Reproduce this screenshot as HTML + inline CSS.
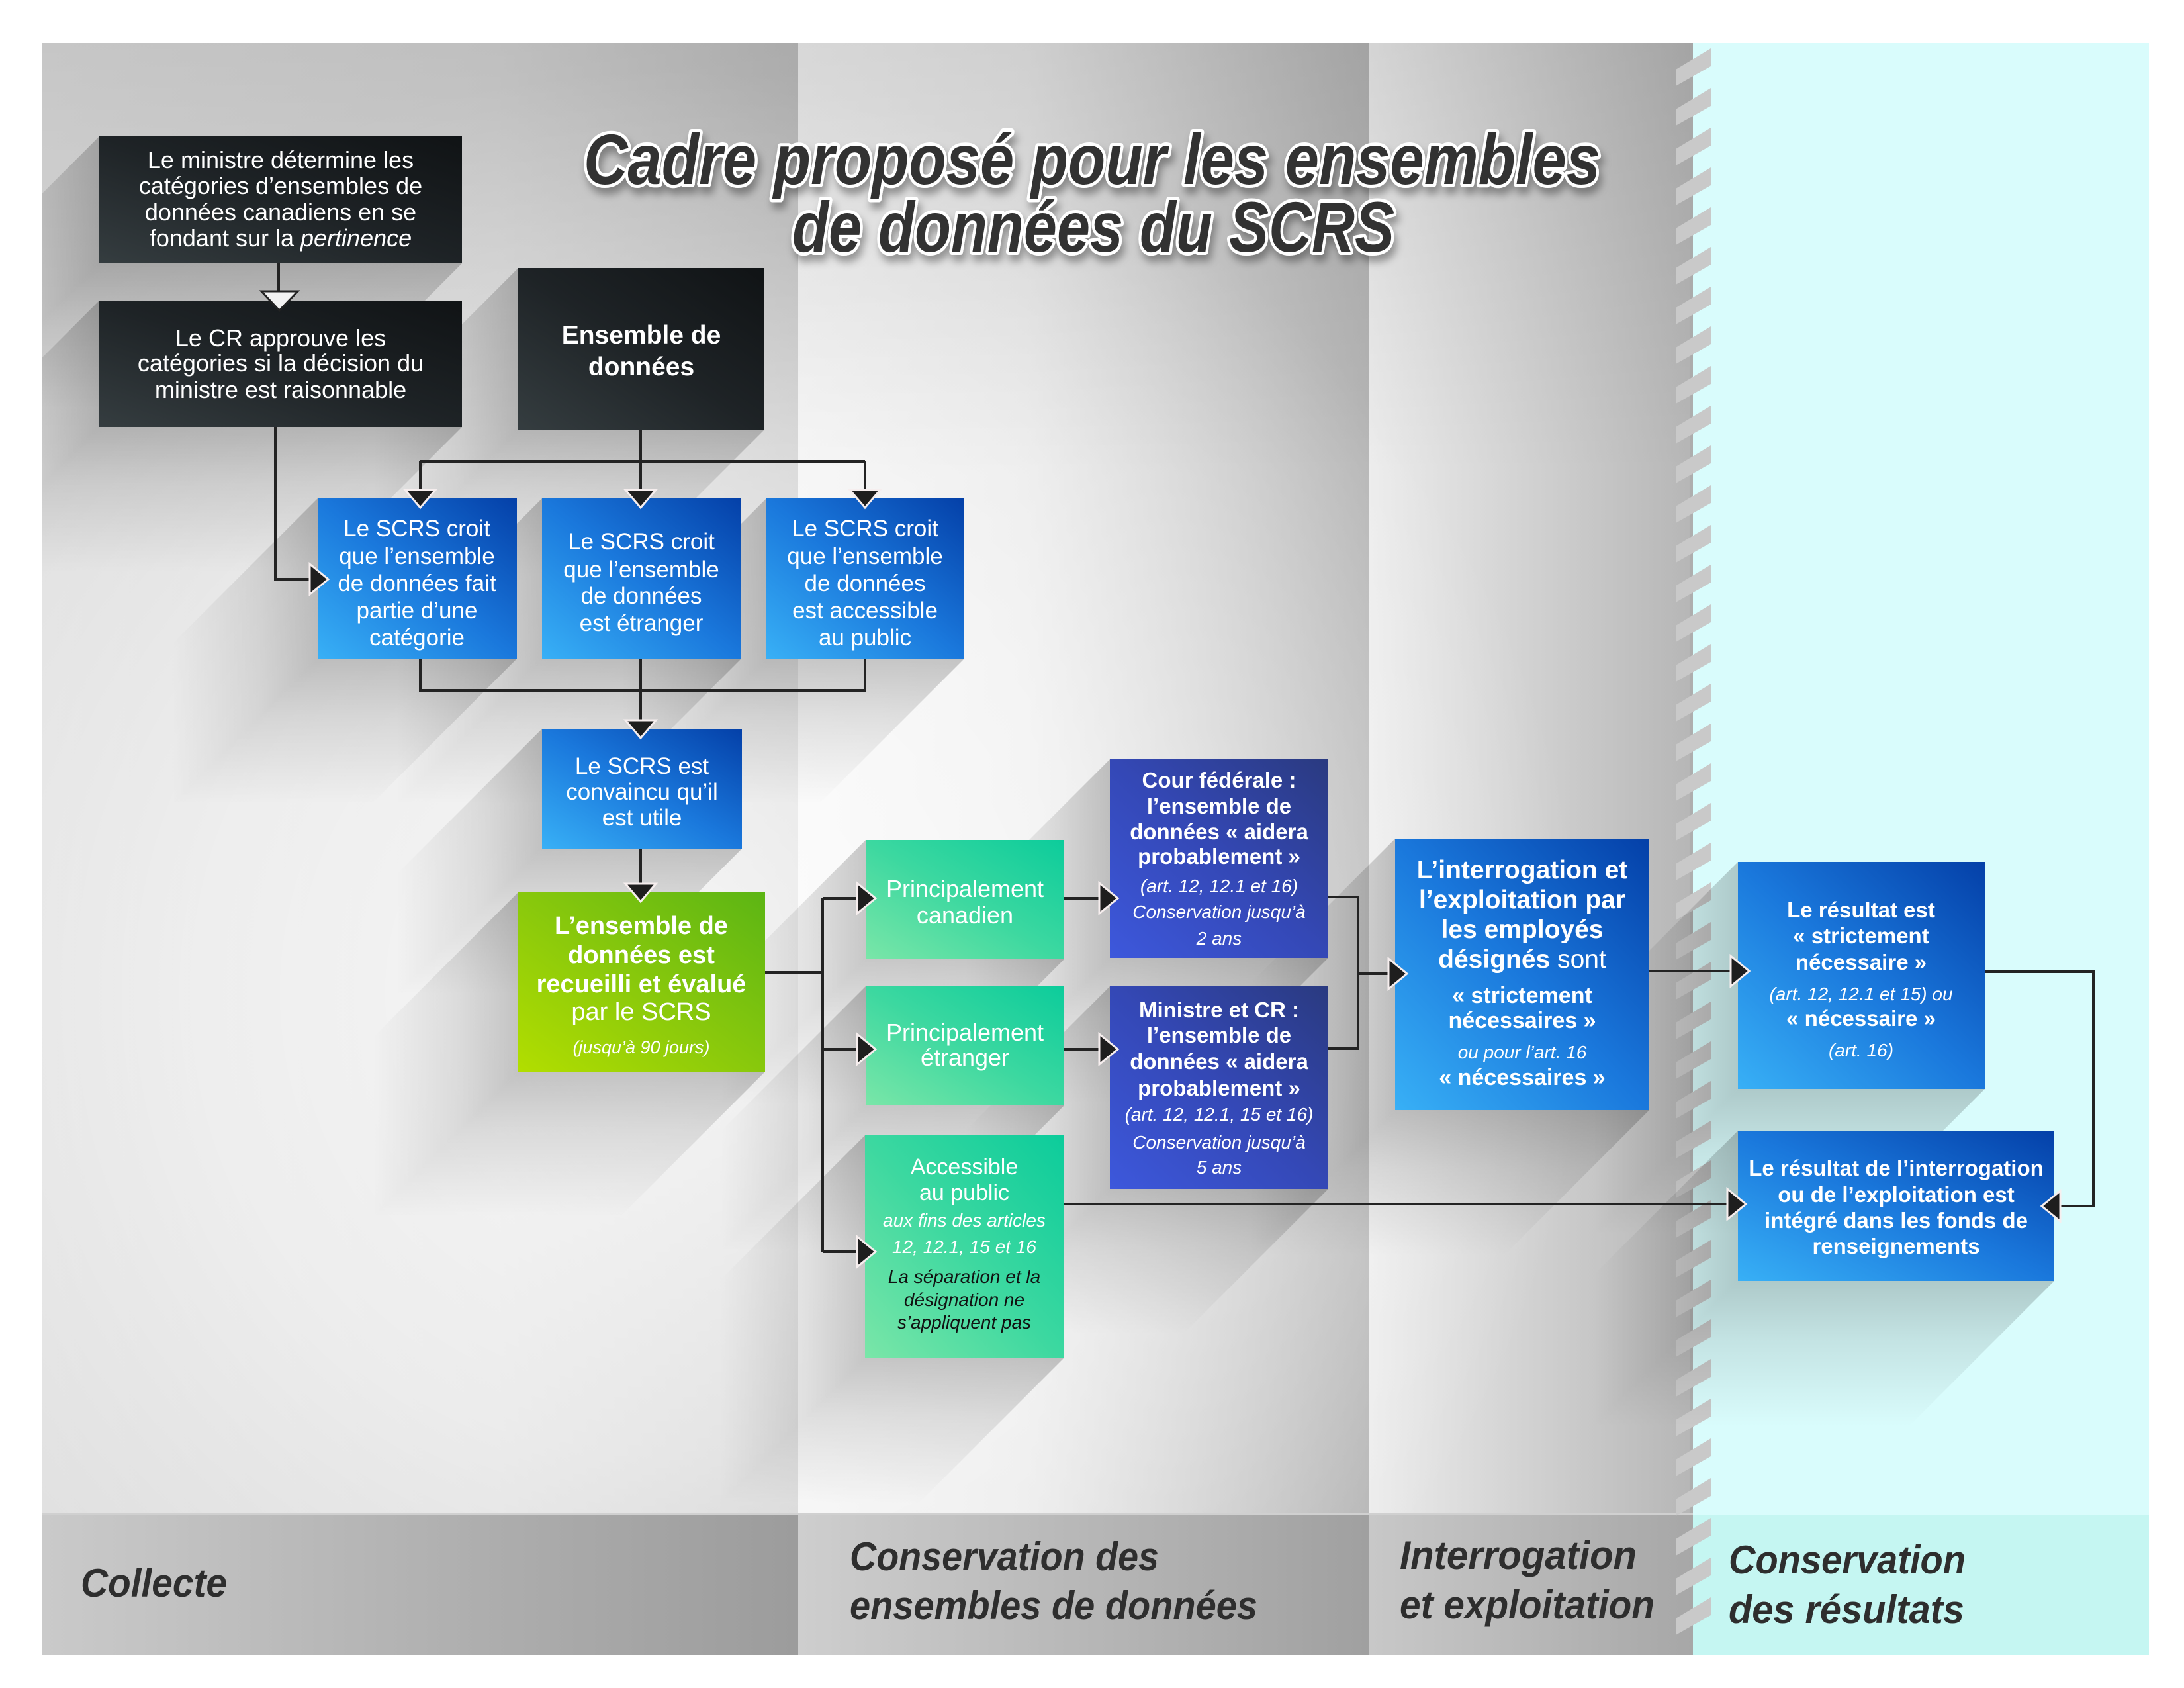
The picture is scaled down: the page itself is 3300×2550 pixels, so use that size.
<!DOCTYPE html>
<html><head><meta charset="utf-8"><style>
html,body{margin:0;padding:0;background:#fff;}
svg{display:block;}
.t{font-family:"Liberation Sans",sans-serif;fill:#fff;text-anchor:middle;}
.b{font-weight:bold;}
.i{font-style:italic;}
.ln{stroke:#232323;stroke-width:4;fill:none;}
.ah{fill:#1e1e1e;stroke:#f6eeee;stroke-width:3;stroke-linejoin:miter;}
.sa{fill:url(#shA);}
.sb{fill:url(#shB);}
.lab{font-family:"Liberation Sans",sans-serif;font-weight:bold;font-style:italic;fill:#2e2e2e;font-size:60px;}
</style></head><body>
<svg width="3300" height="2550" viewBox="0 0 3300 2550" xmlns="http://www.w3.org/2000/svg">
<defs>
 <linearGradient id="c1" x1="0" y1="0" x2="1" y2="0"><stop offset="0" stop-color="#dcdcdc"/><stop offset="0.6" stop-color="#d4d4d4"/><stop offset="1" stop-color="#bebebe"/></linearGradient>
 <linearGradient id="c2" x1="0" y1="0" x2="1" y2="0"><stop offset="0" stop-color="#efefef"/><stop offset="0.4" stop-color="#e6e6e6"/><stop offset="1" stop-color="#b5b5b5"/></linearGradient>
 <linearGradient id="c3" x1="0" y1="0" x2="1" y2="0"><stop offset="0" stop-color="#ececec"/><stop offset="1" stop-color="#b6b6b6"/></linearGradient>
 <linearGradient id="bd1" x1="0" y1="0" x2="1" y2="0"><stop offset="0" stop-color="#cacaca"/><stop offset="0.6" stop-color="#adadad"/><stop offset="1" stop-color="#9c9c9c"/></linearGradient>
 <linearGradient id="bd2" x1="0" y1="0" x2="1" y2="0"><stop offset="0" stop-color="#cecece"/><stop offset="1" stop-color="#a0a0a0"/></linearGradient>
 <linearGradient id="bd3" x1="0" y1="0" x2="1" y2="0"><stop offset="0" stop-color="#c8c8c8"/><stop offset="1" stop-color="#a7a7a7"/></linearGradient>
 <radialGradient id="glow" cx="1000" cy="1500" r="1400" gradientUnits="userSpaceOnUse"><stop offset="0" stop-color="#fff" stop-opacity="0.85"/><stop offset="0.5" stop-color="#fff" stop-opacity="0.55"/><stop offset="1" stop-color="#fff" stop-opacity="0"/></radialGradient>
 <linearGradient id="topdark" x1="0" y1="0" x2="0" y2="1"><stop offset="0" stop-color="#000" stop-opacity="0.1"/><stop offset="1" stop-color="#000" stop-opacity="0"/></linearGradient>
 <linearGradient id="shA" x1="1" y1="0" x2="0" y2="0"><stop offset="0" stop-color="#000" stop-opacity="0.2"/><stop offset="0.4" stop-color="#000" stop-opacity="0.1"/><stop offset="1" stop-color="#000" stop-opacity="0"/></linearGradient>
 <linearGradient id="shB" x1="0" y1="0" x2="0" y2="1"><stop offset="0" stop-color="#000" stop-opacity="0.2"/><stop offset="0.4" stop-color="#000" stop-opacity="0.1"/><stop offset="1" stop-color="#000" stop-opacity="0"/></linearGradient>
 <linearGradient id="gDark" x1="0" y1="1" x2="1" y2="0"><stop offset="0" stop-color="#353d40"/><stop offset="0.5" stop-color="#1e2326"/><stop offset="1" stop-color="#101315"/></linearGradient>
 <linearGradient id="gBlue" x1="0" y1="1" x2="1" y2="0"><stop offset="0" stop-color="#38b0f6"/><stop offset="0.5" stop-color="#1a78dc"/><stop offset="1" stop-color="#0440a8"/></linearGradient>
 <linearGradient id="gPur" x1="0" y1="1" x2="1" y2="0"><stop offset="0" stop-color="#3d58dc"/><stop offset="0.5" stop-color="#3448b6"/><stop offset="1" stop-color="#2a3a80"/></linearGradient>
 <linearGradient id="gTeal" x1="0" y1="1" x2="1" y2="0"><stop offset="0" stop-color="#7ae6a8"/><stop offset="0.5" stop-color="#3cd8a0"/><stop offset="1" stop-color="#0ccc9b"/></linearGradient>
 <linearGradient id="gGreen" x1="0" y1="1" x2="1" y2="0"><stop offset="0" stop-color="#b2de00"/><stop offset="0.5" stop-color="#88c80c"/><stop offset="1" stop-color="#5cb514"/></linearGradient>
 <pattern id="stripes" patternUnits="userSpaceOnUse" x="2532" y="45" width="53" height="60">
  <polygon points="0,60 53,28 53,55 0,85" fill="#c9c9c9"/>
  <polygon points="0,0 53,-32 53,-5 0,25" fill="#c9c9c9"/>
 </pattern>
 <filter id="tsh" x="-5%" y="-20%" width="110%" height="150%"><feDropShadow dx="4" dy="10" stdDeviation="6" flood-color="#000" flood-opacity="0.35"/></filter>
 <clipPath id="panel"><rect x="63" y="65" width="3184" height="2223"/></clipPath>
</defs>

<!-- background -->
<rect x="0" y="0" width="3300" height="2550" fill="#fff"/>
<rect x="63" y="65" width="1143" height="2223" fill="url(#c1)"/>
<rect x="1206" y="65" width="863" height="2223" fill="url(#c2)"/>
<rect x="2069" y="65" width="489" height="2223" fill="url(#c3)"/>
<rect x="2558" y="65" width="689" height="2223" fill="#d9fcfc"/>
<rect x="63" y="65" width="2495" height="2223" fill="url(#glow)"/>
<rect x="63" y="65" width="2495" height="650" fill="url(#topdark)"/>
<rect x="2553" y="65" width="5" height="2223" fill="#a9a9a9" opacity="0.6"/>
<!-- bottom band -->
<rect x="63" y="2288" width="1143" height="212" fill="url(#bd1)"/>
<rect x="1206" y="2288" width="863" height="212" fill="url(#bd2)"/>
<rect x="2069" y="2288" width="489" height="212" fill="url(#bd3)"/>
<rect x="2558" y="2288" width="689" height="212" fill="#c5f6f2"/>
<rect x="63" y="2286" width="2495" height="3" fill="#d0d0d0"/>
<!-- stripes -->
<rect x="2532" y="70" width="53" height="2400" fill="url(#stripes)"/>

<!-- long shadows -->
<g clip-path="url(#panel)">
 <polygon class="sa" points="150,206 150,398 -70,618 -70,426"/><polygon class="sb" points="150,398 698,398 478,618 -70,618"/>
 <polygon class="sa" points="150,454 150,645 -70,865 -70,674"/><polygon class="sb" points="150,645 698,645 478,865 -70,865"/>
 <polygon class="sa" points="783,405 783,649 563,869 563,625"/><polygon class="sb" points="783,649 1155,649 935,869 563,869"/>
 <polygon class="sa" points="480,753 480,995 260,1215 260,973"/><polygon class="sb" points="480,995 781,995 561,1215 260,1215"/>
 <polygon class="sa" points="819,753 819,995 599,1215 599,973"/><polygon class="sb" points="819,995 1120,995 900,1215 599,1215"/>
 <polygon class="sa" points="1158,753 1158,995 938,1215 938,973"/><polygon class="sb" points="1158,995 1457,995 1237,1215 938,1215"/>
 <polygon class="sa" points="819,1101 819,1282 599,1502 599,1321"/><polygon class="sb" points="819,1282 1121,1282 901,1502 599,1502"/>
 <polygon class="sa" points="783,1348 783,1619 563,1839 563,1568"/><polygon class="sb" points="783,1619 1156,1619 936,1839 563,1839"/>
 <polygon class="sa" points="1308,1269 1308,1449 1088,1669 1088,1489"/><polygon class="sb" points="1308,1449 1608,1449 1388,1669 1088,1669"/>
 <polygon class="sa" points="1308,1490 1308,1670 1088,1890 1088,1710"/><polygon class="sb" points="1308,1670 1608,1670 1388,1890 1088,1890"/>
 <polygon class="sa" points="1307,1715 1307,2052 1087,2272 1087,1935"/><polygon class="sb" points="1307,2052 1607,2052 1387,2272 1087,2272"/>
 <polygon class="sa" points="1677,1147 1677,1447 1457,1667 1457,1367"/><polygon class="sb" points="1677,1447 2007,1447 1787,1667 1457,1667"/>
 <polygon class="sa" points="1677,1490 1677,1796 1457,2016 1457,1710"/><polygon class="sb" points="1677,1796 2007,1796 1787,2016 1457,2016"/>
 <polygon class="sa" points="2108,1267 2108,1677 1888,1897 1888,1487"/><polygon class="sb" points="2108,1677 2492,1677 2272,1897 1888,1897"/>
 <polygon class="sa" points="2626,1302 2626,1645 2406,1865 2406,1522"/><polygon class="sb" points="2626,1645 2999,1645 2779,1865 2406,1865"/>
 <polygon class="sa" points="2626,1708 2626,1935 2406,2155 2406,1928"/><polygon class="sb" points="2626,1935 3104,1935 2884,2155 2406,2155"/>
</g>

<!-- title -->
<g filter="url(#tsh)" font-family="'Liberation Sans',sans-serif" font-weight="bold" font-style="italic" font-size="108" fill="#333" stroke="#fff" stroke-width="10" stroke-linejoin="round" paint-order="stroke">
 <text x="882" y="278" textLength="1536" lengthAdjust="spacingAndGlyphs">Cadre proposé pour les ensembles</text>
 <text x="1197" y="380" textLength="910" lengthAdjust="spacingAndGlyphs">de données du SCRS</text>
</g>

<!-- connectors -->
<path class="ln" d="M421,398 V445"/>
<path class="ln" d="M968,649 V697 M635,697 H1307 M635,697 V742 M968,697 V742 M1307,697 V742"/>
<path class="ln" d="M416,645 V875 H470"/>
<path class="ln" d="M635,995 V1043 H1307 V995 M968,995 V1090"/>
<path class="ln" d="M968,1282 V1337"/>
<path class="ln" d="M1156,1469 H1243 M1243,1357 V1891 M1243,1357 H1296 M1243,1585 H1296 M1243,1891 H1296"/>
<path class="ln" d="M1608,1357 H1662 M1608,1585 H1662"/>
<path class="ln" d="M2007,1355 H2052 V1584 H2007 M2052,1471 H2099"/>
<path class="ln" d="M2492,1467 H2616"/>
<path class="ln" d="M2999,1468 H3163 V1822 H3111"/>
<path class="ln" d="M1607,1819 H2611"/>

<!-- boxes -->
<rect x="150" y="206" width="548" height="192" fill="url(#gDark)"/>
<rect x="150" y="454" width="548" height="191" fill="url(#gDark)"/>
<rect x="783" y="405" width="372" height="244" fill="url(#gDark)"/>
<rect x="480" y="753" width="301" height="242" fill="url(#gBlue)"/>
<rect x="819" y="753" width="301" height="242" fill="url(#gBlue)"/>
<rect x="1158" y="753" width="299" height="242" fill="url(#gBlue)"/>
<rect x="819" y="1101" width="302" height="181" fill="url(#gBlue)"/>
<rect x="783" y="1348" width="373" height="271" fill="url(#gGreen)"/>
<rect x="1308" y="1269" width="300" height="180" fill="url(#gTeal)"/>
<rect x="1308" y="1490" width="300" height="180" fill="url(#gTeal)"/>
<rect x="1307" y="1715" width="300" height="337" fill="url(#gTeal)"/>
<rect x="1677" y="1147" width="330" height="300" fill="url(#gPur)"/>
<rect x="1677" y="1490" width="330" height="306" fill="url(#gPur)"/>
<rect x="2108" y="1267" width="384" height="410" fill="url(#gBlue)"/>
<rect x="2626" y="1302" width="373" height="343" fill="url(#gBlue)"/>
<rect x="2626" y="1708" width="478" height="227" fill="url(#gBlue)"/>

<!-- arrowheads -->
<polygon points="395,440 450,440 422,469" fill="#f2f2f2" stroke="#222" stroke-width="3"/>
<polygon class="ah" points="612,740 658,740 635,767"/>
<polygon class="ah" points="945,740 991,740 968,767"/>
<polygon class="ah" points="1284,740 1330,740 1307,767"/>
<polygon class="ah" points="945,1088 991,1088 968,1115"/>
<polygon class="ah" points="945,1335 991,1335 968,1362"/>
<polygon class="ah" points="468,852 468,898 496,875"/>
<polygon class="ah" points="1295,1334 1295,1380 1323,1357"/>
<polygon class="ah" points="1295,1562 1295,1608 1323,1585"/>
<polygon class="ah" points="1295,1868 1295,1914 1323,1891"/>
<polygon class="ah" points="1661,1334 1661,1380 1689,1357"/>
<polygon class="ah" points="1661,1562 1661,1608 1689,1585"/>
<polygon class="ah" points="2098,1448 2098,1494 2126,1471"/>
<polygon class="ah" points="2615,1444 2615,1490 2643,1467"/>
<polygon class="ah" points="2610,1796 2610,1842 2638,1819"/>
<polygon class="ah" points="3113,1799 3113,1845 3085,1822"/>

<!-- box texts -->
<g class="t" font-size="36">
 <text x="424" y="254">Le ministre détermine les</text>
 <text x="424" y="293">catégories d’ensembles de</text>
 <text x="424" y="333">données canadiens en se</text>
 <text x="424" y="372">fondant sur la <tspan class="i">pertinence</tspan></text>
 <text x="424" y="523">Le CR approuve les</text>
 <text x="424" y="561">catégories si la décision du</text>
 <text x="424" y="601">ministre est raisonnable</text>
</g>
<g class="t b" font-size="39">
 <text x="969" y="519">Ensemble de</text>
 <text x="969" y="567">données</text>
</g>
<g class="t" font-size="35">
 <text x="630" y="810">Le SCRS croit</text>
 <text x="630" y="852">que l’ensemble</text>
 <text x="630" y="893">de données fait</text>
 <text x="630" y="934">partie d’une</text>
 <text x="630" y="975">catégorie</text>
 <text x="969" y="830">Le SCRS croit</text>
 <text x="969" y="872">que l’ensemble</text>
 <text x="969" y="912">de données</text>
 <text x="969" y="953">est étranger</text>
 <text x="1307" y="810">Le SCRS croit</text>
 <text x="1307" y="852">que l’ensemble</text>
 <text x="1307" y="893">de données</text>
 <text x="1307" y="934">est accessible</text>
 <text x="1307" y="975">au public</text>
 <text x="970" y="1169">Le SCRS est</text>
 <text x="970" y="1208">convaincu qu’il</text>
 <text x="970" y="1247">est utile</text>
</g>
<g class="t" font-size="38">
 <text class="b" x="969" y="1411">L’ensemble de</text>
 <text class="b" x="969" y="1455">données est</text>
 <text class="b" x="969" y="1499">recueilli et évalué</text>
 <text x="969" y="1541">par le SCRS</text>
 <text class="i" x="969" y="1591" font-size="27">(jusqu’à 90 jours)</text>
</g>
<g class="t" font-size="36">
 <text x="1458" y="1355">Principalement</text>
 <text x="1458" y="1395">canadien</text>
 <text x="1458" y="1572">Principalement</text>
 <text x="1458" y="1610">étranger</text>
</g>
<g class="t">
 <text x="1457" y="1774" font-size="34">Accessible</text>
 <text x="1457" y="1813" font-size="34">au public</text>
 <text class="i" x="1457" y="1853" font-size="28">aux fins des articles</text>
 <text class="i" x="1457" y="1893" font-size="28">12, 12.1, 15 et 16</text>
 <text class="i" x="1457" y="1938" font-size="28" style="fill:#111">La séparation et la</text>
 <text class="i" x="1457" y="1973" font-size="28" style="fill:#111">désignation ne</text>
 <text class="i" x="1457" y="2007" font-size="28" style="fill:#111">s’appliquent pas</text>
</g>
<g class="t">
 <text class="b" x="1842" y="1190" font-size="33">Cour fédérale :</text>
 <text class="b" x="1842" y="1229" font-size="33">l’ensemble de</text>
 <text class="b" x="1842" y="1268" font-size="33">données « aidera</text>
 <text class="b" x="1842" y="1305" font-size="33">probablement »</text>
 <text class="i" x="1842" y="1348" font-size="28">(art. 12, 12.1 et 16)</text>
 <text class="i" x="1842" y="1387" font-size="28">Conservation jusqu’à</text>
 <text class="i" x="1842" y="1427" font-size="28">2 ans</text>
 <text class="b" x="1842" y="1537" font-size="33">Ministre et CR :</text>
 <text class="b" x="1842" y="1575" font-size="33">l’ensemble de</text>
 <text class="b" x="1842" y="1615" font-size="33">données « aidera</text>
 <text class="b" x="1842" y="1655" font-size="33">probablement »</text>
 <text class="i" x="1842" y="1693" font-size="28">(art. 12, 12.1, 15 et 16)</text>
 <text class="i" x="1842" y="1735" font-size="28">Conservation jusqu’à</text>
 <text class="i" x="1842" y="1773" font-size="28">5 ans</text>
</g>
<g class="t">
 <text class="b" x="2300" y="1327" font-size="39">L’interrogation et</text>
 <text class="b" x="2300" y="1372" font-size="39">l’exploitation par</text>
 <text class="b" x="2300" y="1417" font-size="39">les employés</text>
 <text x="2300" y="1462" font-size="39"><tspan class="b">désignés</tspan> sont</text>
 <text class="b" x="2300" y="1515" font-size="34">« strictement</text>
 <text class="b" x="2300" y="1553" font-size="34">nécessaires »</text>
 <text class="i" x="2300" y="1599" font-size="28">ou pour l’art. 16</text>
 <text class="b" x="2300" y="1639" font-size="34">« nécessaires »</text>
</g>
<g class="t">
 <text class="b" x="2812" y="1386" font-size="33">Le résultat est</text>
 <text class="b" x="2812" y="1425" font-size="33">« strictement</text>
 <text class="b" x="2812" y="1465" font-size="33">nécessaire »</text>
 <text class="i" x="2812" y="1511" font-size="28">(art. 12, 12.1 et 15) ou</text>
 <text class="b" x="2812" y="1550" font-size="33">« nécessaire »</text>
 <text class="i" x="2812" y="1596" font-size="28">(art. 16)</text>
</g>
<g class="t b" font-size="33">
 <text x="2865" y="1776">Le résultat de l’interrogation</text>
 <text x="2865" y="1816">ou de l’exploitation est</text>
 <text x="2865" y="1855">intégré dans les fonds de</text>
 <text x="2865" y="1894">renseignements</text>
</g>

<!-- bottom labels -->
<text class="lab" x="122" y="2412" textLength="221" lengthAdjust="spacingAndGlyphs">Collecte</text>
<text class="lab" x="1284" y="2372" textLength="467" lengthAdjust="spacingAndGlyphs">Conservation des</text>
<text class="lab" x="1284" y="2446" textLength="616" lengthAdjust="spacingAndGlyphs">ensembles de données</text>
<text class="lab" x="2115" y="2370" textLength="358" lengthAdjust="spacingAndGlyphs">Interrogation</text>
<text class="lab" x="2115" y="2445" textLength="385" lengthAdjust="spacingAndGlyphs">et exploitation</text>
<text class="lab" x="2612" y="2377" textLength="358" lengthAdjust="spacingAndGlyphs">Conservation</text>
<text class="lab" x="2612" y="2452" textLength="356" lengthAdjust="spacingAndGlyphs">des résultats</text>
</svg>
</body></html>
